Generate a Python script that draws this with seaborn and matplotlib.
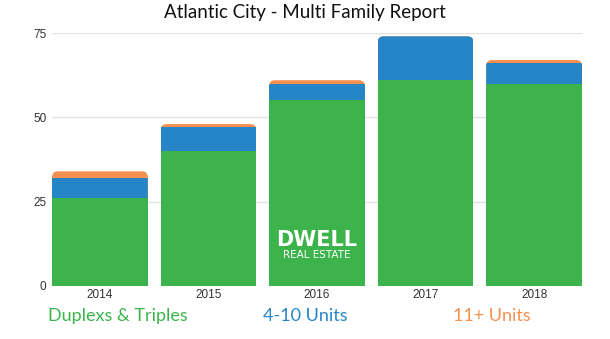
import numpy as np
import pandas as pd
import matplotlib
matplotlib.use("Agg")
import matplotlib.pyplot as plt
import seaborn as sns
from matplotlib.patches import FancyBboxPatch

years = ["2014", "2015", "2016", "2017", "2018"]
duplex_triples = [26, 40, 55, 61, 60]
units_4_10 = [6, 7, 5, 13, 6]
units_11_plus = [2, 1, 1, 0, 1]
series_names = ["Duplexs & Triples", "4-10 Units", "11+ Units"]
series_colors = ["#3cb44b", "#2585c6", "#f6904f"]
yticks = [0, 25, 50, 75]

sns.set_theme(style="white")
plt.rcParams["font.family"] = ["Liberation Sans", "DejaVu Sans"]

fig = plt.figure(figsize=(6.10, 3.39), dpi=100)
ax = fig.add_axes([52 / 610, 53 / 339, 530 / 610, 253 / 339])

g = np.array(duplex_triples)
b = np.array(units_4_10)
o = np.array(units_11_plus)
df = pd.DataFrame({"year": years, "top": g + b + o, "mid": g + b, "low": g})

W = 0.883
for col, color in zip(["top", "mid", "low"], series_colors[::-1]):
    sns.barplot(data=df, x="year", y=col, color=color, width=W, ax=ax,
                saturation=1, linewidth=0, zorder=2)

ax.set_xlim(-W / 2, len(years) - 1 + W / 2)
ax.set_ylim(0, 75)

# rounded tops: clip every segment in a column to a rounded rectangle
px_x = 530 / (len(years) - 1 + W)
px_y = 253 / 75
aspect = px_x / px_y
r = 6 / px_x
totals = g + b + o
for i, p in enumerate(ax.patches):
    col = i % len(years)
    clip = FancyBboxPatch((col - W / 2, -20), W, totals[col] + 20,
                          boxstyle=f"round,pad=0,rounding_size={r}",
                          mutation_aspect=aspect, transform=ax.transData)
    p.set_clip_path(clip)

ax.set_yticks(yticks)
ax.set_yticklabels([str(t) for t in yticks])
ax.yaxis.grid(True, color="#e3e3e3", linewidth=1, zorder=0)
ax.set_axisbelow(True)
for s in ax.spines.values():
    s.set_visible(False)
ax.set_xlabel("")
ax.set_ylabel("")
ax.tick_params(axis="x", length=0, pad=2, labelsize=8.5, labelcolor="#333333")
ax.tick_params(axis="y", length=0, pad=4, labelsize=8.5, labelcolor="#333333")

# watermark
ax.text(2.0, 13.6, "DWELL", color="white", fontsize=15, fontweight="bold",
        ha="center", va="center", family=["DejaVu Sans"], zorder=5)
ax.text(2.0, 9.3, "REAL ESTATE", color="white", fontsize=7.5,
        ha="center", va="center", family=["DejaVu Sans"], zorder=5)

fig.text(0.5, 0.962, "Atlantic City - Multi Family Report", ha="center",
         va="center", fontsize=13.5, color="#111111", family=["Lato", "DejaVu Sans"])

for name, color, xc in zip(series_names, series_colors, [118, 305, 492]):
    fig.text(xc / 610, (339 - 316) / 339, name, ha="center", va="center",
             fontsize=13, color=color, family=["Lato", "DejaVu Sans"])

fig.savefig("out.png", dpi=100, facecolor="white")
